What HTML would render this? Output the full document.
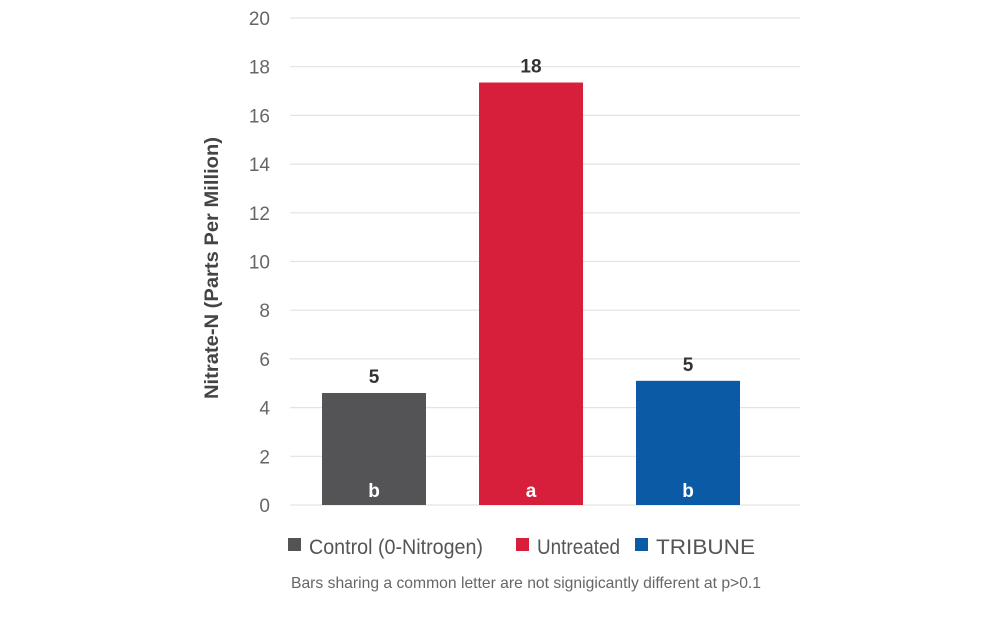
<!DOCTYPE html>
<html><head><meta charset="utf-8"><style>
body{margin:0;background:#fff;width:1000px;height:629px;overflow:hidden}
svg{display:block}
text{font-family:"Liberation Sans Narrow","Liberation Sans",sans-serif}
</style></head><body>
<svg id="chart" width="1000" height="629" viewBox="0 0 1000 629"></svg>
<script>
const categories = ["Control (0-Nitrogen)", "Untreated", "TRIBUNE"];
const values = [4.6, 17.35, 5.1];
const valueLabels = ["5", "18", "5"];
const letters = ["b", "a", "b"];
const colors = ["#545456", "#d71f3c", "#0b5aa5"];
const yTicks = [0, 2, 4, 6, 8, 10, 12, 14, 16, 18, 20];

const NS = "http://www.w3.org/2000/svg";
const svg = document.getElementById("chart");
const x0 = 290, x1 = 800, yBase = 505, yTop = 18, yMax = 20;
const y = v => yBase - (v / yMax) * (yBase - yTop);
const barW = 104;
const xc = i => 374 + 157 * i;
function mk(tag, attrs, txt) {
  const e = document.createElementNS(NS, tag);
  for (const k in attrs) e.setAttribute(k, attrs[k]);
  if (txt !== undefined) e.textContent = txt;
  svg.appendChild(e);
  return e;
}
yTicks.forEach(t => {
  const g = mk("line", {x1: x0, x2: x1, y1: y(t), y2: y(t), stroke: "#e3e3e3", "stroke-width": 1.2});
  
  
  const l = mk("text", {x: 270, y: y(t) + 7, "text-anchor": "end", "font-size": 19, fill: "#666"}, t);
  
  
});
const yt = mk("text", {x: 0, y: 0, transform: "translate(218,268) rotate(-90)", "text-anchor": "middle", "font-size": 19, "font-weight": "bold", fill: "#444", textLength: 262, lengthAdjust: "spacingAndGlyphs"}, "Nitrate-N (Parts Per Million)");


categories.forEach((c, i) => {
  const b = mk("rect", {x: xc(i) - barW / 2, y: y(values[i]), width: barW, height: yBase - y(values[i]), fill: colors[i]});
  
  
  const v = mk("text", {x: xc(i), y: y(values[i]) - 10, "text-anchor": "middle", "font-size": 19, "font-weight": "bold", fill: "#333"}, valueLabels[i]);
  
  
  const l = mk("text", {x: xc(i), y: 497, "text-anchor": "middle", "font-size": 19, "font-weight": "bold", fill: "#fff"}, letters[i]);
  
  
});
const legX = [288, 516, 635];
const legLen = [174, 83, 99];
categories.forEach((c, i) => {
  const s = mk("rect", {x: legX[i], y: 538, width: 13, height: 13, fill: colors[i]});
  
  
  const t = mk("text", {x: legX[i] + 21, y: 554, "font-size": 21, fill: "#555", textLength: legLen[i], lengthAdjust: "spacingAndGlyphs"}, c);
  
  
});
const note = mk("text", {x: 291, y: 588, "font-size": 16, fill: "#666", textLength: 470, lengthAdjust: "spacingAndGlyphs"}, "Bars sharing a common letter are not signigicantly different at p>0.1");


</script>
</body></html>
